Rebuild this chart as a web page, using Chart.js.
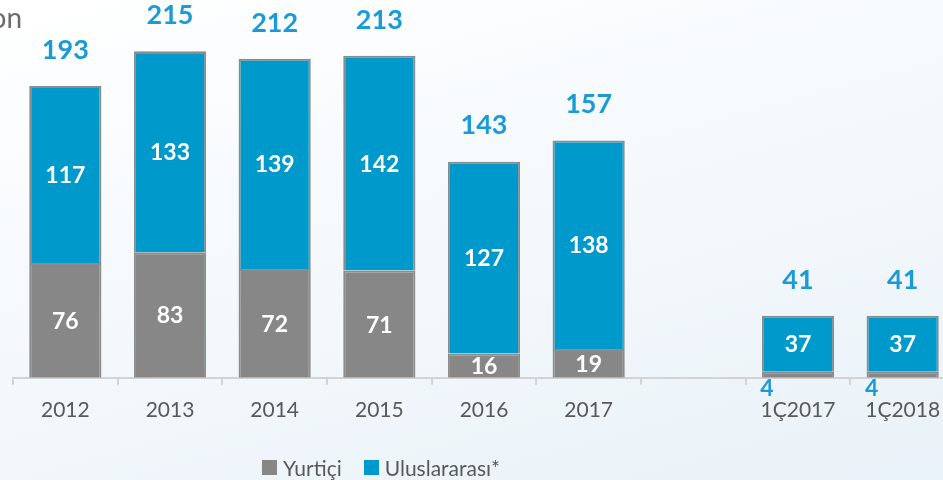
<!DOCTYPE html>
<html>
<head>
<meta charset="utf-8">
<script src="https://cdn.jsdelivr.net/npm/chart.js@4/dist/chart.umd.min.js"></script>
<style>
  html, body { margin: 0; padding: 0; overflow: hidden; }
  body {
    width: 943px; height: 480px;
    background: linear-gradient(165deg, #ffffff 0%, #f5f9fc 45%, #e9f2f8 100%);
    font-family: Lato, "Open Sans", sans-serif;
  }
  #wrap { position: absolute; left: 0; top: 0; width: 960px; height: 480px; }
  #legend {
    position: absolute; left: 262px; top: 455px;
    display: flex; align-items: center; font-size: 21px; color: #595959;
  }
  #legend .box { width: 15px; height: 15px; margin-right: 6px; }
  #legend .item { display: flex; align-items: center; margin-right: 22px; }
</style>
</head>
<body>
<div id="wrap"><canvas id="chart" width="960" height="480"></canvas></div>
<div id="legend">
  <div class="item"><span class="box" style="background:#878787"></span>Yurtiçi</div>
  <div class="item"><span class="box" style="background:#0099cc"></span>Uluslararası*</div>
</div>
<script>
const labels = ['2012', '2013', '2014', '2015', '2016', '2017', '', '1Ç2017', '1Ç2018'];
const yurtici = [76, 83, 72, 71, 16, 19, null, 4, 4];
const uluslararasi = [117, 133, 139, 142, 127, 138, null, 37, 37];
const totals = [193, 215, 212, 213, 143, 157, null, 41, 41];

const blue = '#0099cc';
const gray = '#878787';
const labelBlue = '#1a9bd5';

// values written inside bars, totals on top, small ones under the axis
const barLabels = {
    id: 'barLabels',
    afterDatasetsDraw(chart) {
        const ctx = chart.ctx;
        ctx.save();
        ctx.textAlign = 'center';
        ctx.textBaseline = 'middle';
        chart.data.datasets.forEach((ds, di) => {
            chart.getDatasetMeta(di).data.forEach((el, i) => {
                const v = ds.data[i];
                if (v == null) return;
                ctx.font = 'bold 23px Lato';
                if (v >= 10) {
                    ctx.fillStyle = '#ffffff';
                    ctx.fillText(v, el.x, (el.y + el.base) / 2 + 1);
                } else {
                    ctx.fillStyle = labelBlue;
                    ctx.fillText(v, el.x - 31, el.base + 11);
                }
            });
        });
        const top = chart.getDatasetMeta(1).data;
        ctx.fillStyle = labelBlue;
        ctx.font = 'bold 27px Lato';
        totals.forEach((t, i) => {
            if (t == null) return;
            ctx.fillText(t, top[i].x, top[i].y - 36);
        });
        ctx.fillStyle = '#6b6b6b';
        ctx.font = '28px Lato';
        ctx.textAlign = 'right';
        ctx.textBaseline = 'alphabetic';
        ctx.fillText('on', 22, 28);
        ctx.restore();
    }
};

new Chart(document.getElementById('chart'), {
    type: 'bar',
    data: {
        labels: labels,
        datasets: [
            {
                label: 'Yurtiçi',
                data: yurtici,
                backgroundColor: gray,
                borderColor: '#8c8c8c',
                borderWidth: 2
            },
            {
                label: 'Uluslararası*',
                data: uluslararasi,
                backgroundColor: blue,
                borderColor: '#8c8c8c',
                borderWidth: 2
            }
        ]
    },
    options: {
        responsive: false,
        animation: false,
        layout: { padding: { left: 13, right: 5, top: 15, bottom: 44 } },
        datasets: { bar: { categoryPercentage: 1, barPercentage: 0.69 } },
        plugins: {
            legend: { display: false },
            tooltip: { enabled: false }
        },
        scales: {
            x: {
                stacked: true,
                grid: {
                    display: true,
                    offset: true,
                    drawOnChartArea: false,
                    tickLength: 7,
                    color: '#d3d3d3',
                    lineWidth: 2
                },
                border: { display: true, color: '#d3d3d3', width: 2 },
                ticks: {
                    color: '#595959',
                    font: { family: 'Lato', size: 21 },
                    padding: 13,
                    maxRotation: 0,
                    autoSkip: false
                }
            },
            y: {
                stacked: true,
                display: false,
                min: 0,
                max: 240
            }
        }
    },
    plugins: [barLabels]
});
</script>
</body>
</html>
